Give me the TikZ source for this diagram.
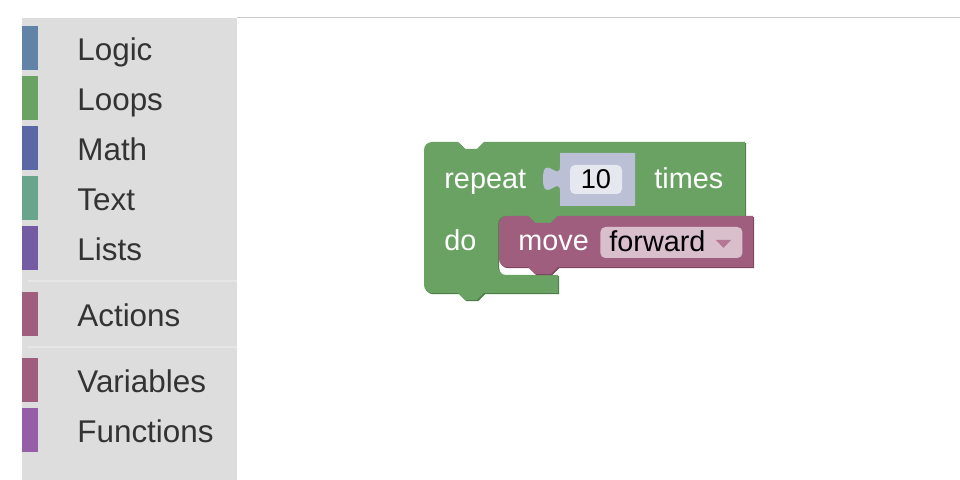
\documentclass[tikz,border=0pt]{standalone}
\usepackage{fontspec}
\setmainfont{Liberation Sans}
\usetikzlibrary{positioning}

\definecolor{sidebar}{HTML}{DDDDDD}
\definecolor{topgray}{HTML}{CCCCCC}
\definecolor{sepgray}{HTML}{E6E6E6}
\definecolor{labelgray}{HTML}{333333}
\definecolor{catlogic}{HTML}{6083A7}
\definecolor{catloops}{HTML}{69A263}
\definecolor{catmath}{HTML}{5C68A6}
\definecolor{cattext}{HTML}{68A58C}
\definecolor{catlists}{HTML}{745CA5}
\definecolor{catactions}{HTML}{A05E7F}
\definecolor{catvars}{HTML}{A05E7F}
\definecolor{catfuncs}{HTML}{965EA6}
\definecolor{loopsdark}{HTML}{4F7D4A}
\definecolor{movedark}{HTML}{7A4660}
\definecolor{valuefill}{HTML}{BCC0D6}
\definecolor{numfill}{HTML}{E6E8F0}
\definecolor{dropfill}{HTML}{D9BECC}
\definecolor{droptip}{HTML}{B57894}

\tikzset{
  catlabel/.style={anchor=base west, inner sep=0pt, text=labelgray,
    font=\fontsize{15.7}{18}\selectfont},
  blocklabel/.style={anchor=base west, inner sep=0pt, text=white,
    font=\fontsize{14.4}{17}\selectfont},
  fieldlabel/.style={anchor=base west, inner sep=0pt, text=black,
    font=\fontsize{14.4}{17}\selectfont},
  loopsblock/.style={fill=catloops,
    preaction={fill=loopsdark, transform canvas={xshift=0.6pt, yshift=-0.6pt}}},
  moveblock/.style={fill=catactions,
    preaction={fill=movedark, transform canvas={xshift=0.6pt, yshift=-0.6pt}}},
  numfield/.style={fill=numfill, rounded corners=2.5pt, inner sep=0pt,
    minimum width=26pt, minimum height=14.5pt, font=\fontsize{13.6}{16}\selectfont},
  dropfield/.style={fill=dropfill, rounded corners=2.5pt, inner sep=0pt,
    minimum width=71pt, minimum height=15.5pt, anchor=west},
}

\begin{document}
\begin{tikzpicture}[x=0.5pt, y=-0.5pt]
  \useasboundingbox (0,0) rectangle (960,480);
  \fill[white] (0,0) rectangle (960,480);
  \draw[topgray, line width=0.5pt] (237,18) -- (960,18);
  \fill[sidebar] (22,18) rectangle (237,480);
  \draw[sepgray, line width=1pt] (28,281) -- (237,281);
  \draw[sepgray, line width=1pt] (28,347) -- (237,347);

  \foreach \ty/\cat/\col in {26/Logic/catlogic, 76/Loops/catloops, 126/Math/catmath,
      176/Text/cattext, 226/Lists/catlists, 292/Actions/catactions,
      358/Variables/catvars, 408/Functions/catfuncs} {
    \fill[\col] (22,\ty) rectangle (38,\ty+44);
    \node[catlabel] (\cat) at (77,\ty+35) {\cat};
  }

  \fill[loopsblock] (424,150) arc[start angle=180, end angle=270, radius=8]
    -- (458,142) -- (465,149) -- (477,149) -- (484,142) -- (745,142) -- (745,216)
    -- (558,216) -- (551,223) -- (535,223) -- (528,216) -- (506,216)
    arc[start angle=270, end angle=180, radius=8] -- (498,267)
    arc[start angle=180, end angle=90, radius=8] -- (558,275) -- (558,293)
    -- (484,293) -- (477,300) -- (465,300) -- (458,293) -- (432,293)
    arc[start angle=90, end angle=180, radius=8] -- cycle;

  \fill[moveblock] (499,224) arc[start angle=180, end angle=270, radius=8]
    -- (528,216) -- (535,223) -- (551,223) -- (558,216) -- (753,216) -- (753,267)
    -- (558,267) -- (551,274) -- (535,274) -- (528,267) -- (507,267)
    arc[start angle=90, end angle=180, radius=8] -- cycle;

  \fill[valuefill] (560,153) -- (635,153) -- (635,206) -- (560,206) -- (560,191.5)
    .. controls (560,174.5) and (543,205.1) .. (543,178.75)
    .. controls (543,152.4) and (560,183) .. (560,166) -- cycle;

  \node[blocklabel] (repeat) at (444,188.5) {repeat};
  \node[numfield] (count) at (596,179.5) {10};
  \node[blocklabel] (times) at (654,188.5) {times};
  \node[blocklabel] (do) at (444,250.5) {do};
  \node[blocklabel] (move) at (518,251) {move};
  \node[dropfield] (forward) at (600,242.5) {};
  \node[fieldlabel] (dir) at (609,251.5) {forward};
  \fill[droptip] (716,240) -- (731,240) -- (723.5,248) -- cycle;
\end{tikzpicture}
\end{document}
